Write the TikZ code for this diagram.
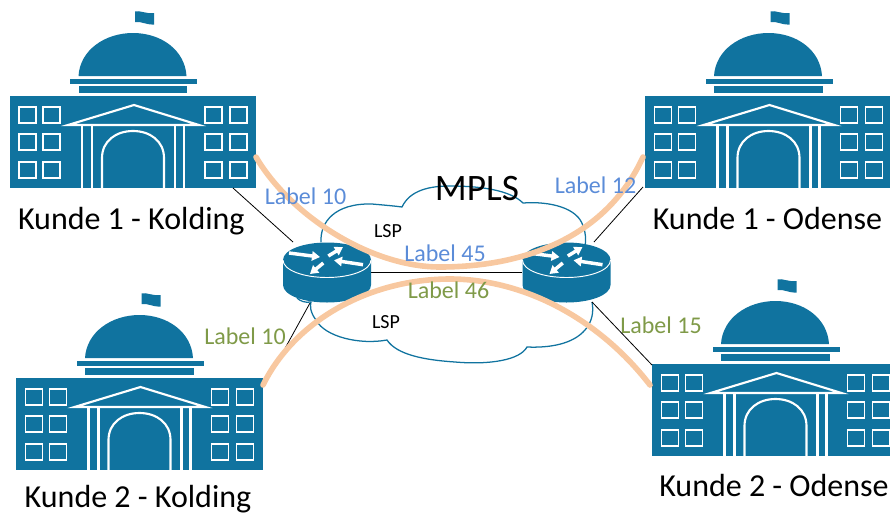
\documentclass[tikz,border=0pt]{standalone}
\usepackage{fontspec}
\usetikzlibrary{arrows.meta}
\setmainfont{Carlito}
\definecolor{teal1}{HTML}{10739F}
\definecolor{peach}{HTML}{F8C8A0}
\definecolor{lblue}{HTML}{5B8CD8}
\definecolor{lgreen}{HTML}{7F9A48}
\tikzset{
  x=0.75pt,y=-0.75pt,
  wline/.style={draw=white,line width=1.6pt},
  win/.style={draw=white,line width=1.4pt,fill=teal1},
  conn/.style={draw=black,line width=0.6pt},
  tube/.style={draw=peach,line width=4.2pt,line cap=round},
  placename/.style={font=\fontsize{24pt}{28pt}\selectfont,text=black,inner sep=0pt,anchor=base},
  lab/.style={font=\fontsize{18pt}{22pt}\selectfont,inner sep=0pt,anchor=base},
  lsptext/.style={font=\fontsize{15pt}{18pt}\selectfont,text=black,inner sep=0pt,anchor=base},
  rarrow/.style={draw=white,line width=2.6pt,-{Triangle[width=7pt,length=6pt]}},
  pics/building/.style={code={
    \fill[teal1] (9.5,96) rectangle (256,188);
    \fill[teal1] (78.5,76) .. controls (80,50) and (105,33) .. (133,33) .. controls (161,33) and (185,50) .. (186.5,76) -- cycle;
    \fill[teal1] (70,79) rectangle (197,83.5);
    \fill[teal1] (78.5,86) rectangle (187,93);
    \fill[teal1] (135,11.5) .. controls (140,10) and (145,14) .. (154,13) -- (154,24.5) .. controls (146,25) and (141,21) .. (135,22) -- cycle;
    \foreach \xa in {19,43,205,230} \foreach \ya in {107,134,162}
      \draw[win] (\xa,\ya) rectangle ++(17,16);
    \draw[wline] (68,125) -- (134,105) -- (199,125) -- cycle;
    \foreach \xa in {82,92,175,184} \draw[wline] (\xa,125) -- (\xa,188);
    \draw[wline] (102,188) -- (102,158) .. controls (102,141) and (116,131) .. (133,131) .. controls (150,131) and (164,141) .. (164,158) -- (164,188);
  }},
  pics/router/.style={code={
    \fill[teal1] (-44,0) -- (-44,25) .. controls (-44,35) and (-24,42.5) .. (0,42.5) .. controls (24,42.5) and (44,35) .. (44,25) -- (44,0) -- cycle;
    \fill[teal1] (-44,0) .. controls (-44,-10) and (-24,-17.5) .. (0,-17.5) .. controls (24,-17.5) and (44,-10) .. (44,0) -- cycle;
    \draw[white,line width=0.7pt] (-44,0) .. controls (-44,10) and (-24,17.5) .. (0,17.5) .. controls (24,17.5) and (44,10) .. (44,0);
    \draw[rarrow] (-38,-7) -- (-7,-3);
    \draw[rarrow] (36,4.7) -- (7,0.3);
    \draw[rarrow] (1.3,-4) -- (16,-13);
    \draw[rarrow] (-3.7,3) -- (-17,14);
  }},
}
\begin{document}
\begin{tikzpicture}
\useasboundingbox (0,0) rectangle (890,515);
\clip (0,0) rectangle (890,515);
% cloud
\draw[teal1,line width=0.95pt]
  (321,242) .. controls (320,222) and (335,203) .. (372,204)
  .. controls (383,205) and (395,206) .. (402,207)
  .. controls (410,190) and (430,186) .. (450,186)
  .. controls (480,186) and (510,190) .. (523,203)
  .. controls (550,201) and (578,208) .. (583,226)
  .. controls (586,233) and (586,240) .. (585,247)
  (592,302) .. controls (594,312) and (592,322) .. (585,330)
  .. controls (573,344) and (550,348) .. (527,347)
  .. controls (520,360) and (490,365) .. (455,362)
  .. controls (425,360) and (397,355) .. (387,340)
  .. controls (360,345) and (325,337) .. (316,320)
  .. controls (310,312) and (310,306) .. (311,302)
  .. controls (305,303) and (300,301) .. (297,298);
% buildings
\pic at (0,0) {building};
\pic at (635.5,0) {building};
\pic at (6.5,282) {building};
\pic at (642.5,268) {building};
% free ends of the connectors
\coordinate (k1) at (233,188);
\coordinate (o1) at (643,187);
\coordinate (k2) at (272,372);
\coordinate (o2) at (652,365);
\coordinate (rl1) at (293,242);
\coordinate (rr1) at (594,242);
\coordinate (rl2) at (310,303);
\coordinate (rr2) at (592,302);
\coordinate (ll) at (371,272.5);
\coordinate (lr) at (522,272.5);
\draw[conn] (k1) -- (rl1);
\draw[conn] (o1) -- (rr1);
\draw[conn] (k2) -- (rl2);
\draw[conn] (o2) -- (rr2);
\draw[conn] (ll) -- (lr);
% routers
\pic at (327,260) {router};
\pic at (566.5,260) {router};
% tubes
\coordinate (t1a) at (256,157);
\coordinate (t1b) at (643,157);
\coordinate (t2a) at (263,385);
\coordinate (t2b) at (650,385);
\draw[tube] (t1a) .. controls (290,215) and (370,267) .. (440,267) .. controls (520,267) and (605,240) .. (t1b);
\draw[tube] (t2a) .. controls (295,320) and (370,279) .. (450,279) .. controls (525,279) and (600,320) .. (t2b);
% texts
\node[placename] (n1) at (131.3,229) {Kunde 1 - Kolding};
\node[placename] (n2) at (767.5,229) {Kunde 1 - Odense};
\node[placename] (n3) at (138,507.5) {Kunde 2 - Kolding};
\node[placename] (n4) at (774,496) {Kunde 2 - Odense};
\node[font=\fontsize{28pt}{32pt}\selectfont,inner sep=0pt,anchor=base] (mpls) at (477,200.7) {MPLS};
\node[lsptext] (l1) at (388,237) {LSP};
\node[lsptext] (l2) at (386,328) {LSP};
\node[lab,text=lblue] (a1) at (305.5,204) {Label 10};
\node[lab,text=lblue] (a2) at (595.5,193.5) {Label 12};
\node[lab,text=lblue] (a3) at (445,261.5) {Label 45};
\node[lab,text=lgreen] (a4) at (448.5,298.5) {Label 46};
\node[lab,text=lgreen] (a5) at (245,344) {Label 10};
\node[lab,text=lgreen] (a6) at (661,333.5) {Label 15};
\end{tikzpicture}
\end{document}
